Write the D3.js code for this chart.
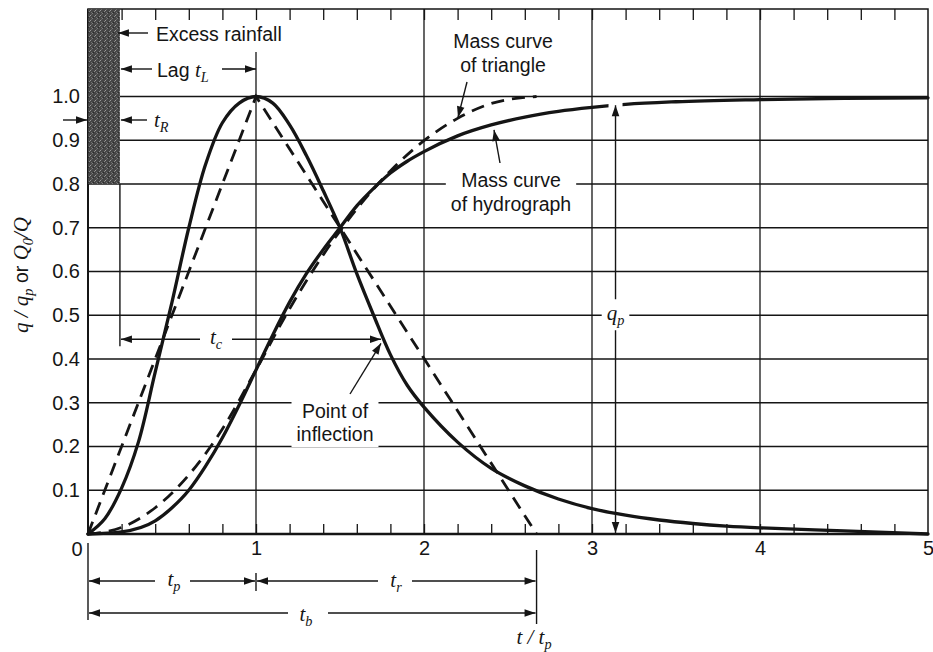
<!DOCTYPE html>
<html><head><meta charset="utf-8">
<script src="https://cdn.jsdelivr.net/npm/d3@7"></script>
<style>
html,body{margin:0;padding:0;background:#fff;}
svg{display:block;}
</style></head>
<body><svg id="c" width="933" height="652"></svg>
<script>
// ---------- data ----------
const tHydro = [0,0.1,0.2,0.3,0.4,0.5,0.6,0.7,0.8,0.9,1.0,1.1,1.2,1.3,1.4,1.5,1.6,1.7,1.8,1.9,2.0,2.2,2.4,2.6,2.8,3.0,3.2,3.4,3.6,3.8,4.0,4.5,5.0];
const qHydro = [0,0.035,0.105,0.21,0.37,0.53,0.70,0.845,0.94,0.985,1.0,0.985,0.935,0.865,0.785,0.70,0.595,0.50,0.41,0.34,0.29,0.21,0.15,0.11,0.08,0.058,0.043,0.032,0.024,0.018,0.014,0.007,0];
const tMass = [0,0.2,0.4,0.5,0.6,0.7,0.8,0.9,1.0,1.1,1.2,1.3,1.4,1.5,1.6,1.7,1.8,1.9,2.0,2.2,2.4,2.6,2.8,3.0,3.2,3.5,4.0,4.5,5.0];
const qMass = [0,0.005,0.03,0.06,0.10,0.155,0.22,0.295,0.375,0.455,0.53,0.595,0.65,0.70,0.75,0.79,0.825,0.852,0.874,0.91,0.935,0.953,0.966,0.975,0.982,0.988,0.993,0.996,0.997];
const tTriMass = [0,0.2,0.4,0.6,0.8,1.0,1.2,1.4,1.6,1.8,2.0,2.2,2.4,2.67];
const qTriMass = [0,0.015,0.06,0.135,0.24,0.375,0.515,0.638,0.743,0.830,0.899,0.950,0.984,1.0];
const tTri = [0,1,2.67];
const qTri = [0,1,0];
const xLabelValues = [1,2,3,4,5];
const minorTicks = [0.2,0.4,0.6,0.8,1.0,1.2,1.4,1.6,1.8,2.0,2.2,2.4,2.6,2.8,3.0,3.2,3.4,3.6,3.8,4.0,4.2,4.4,4.6,4.8];
const yTickValues = [0.1,0.2,0.3,0.4,0.5,0.6,0.7,0.8,0.9,1.0];
const rainEnd = 0.19, rainBottom = 0.8;
const tb = 2.67, tInflect = 1.75, qInflect = 0.445, tQp = 3.14, qQpTop = 0.98;

// ---------- setup ----------
const svg = d3.select("#c");
const x = d3.scaleLinear().domain([0,5]).range([88,928]);
const y = d3.scaleLinear().domain([0,1.2]).range([534,9]);
const ink = "#151515";
const SANS = "'Liberation Sans', Arial, Helvetica, sans-serif";
const SERIF = "'Liberation Serif','DejaVu Serif',serif";
const FS = 19.5;

const defs = svg.append("defs");
const pat = defs.append("pattern").attr("id","stip").attr("width",5).attr("height",5).attr("patternUnits","userSpaceOnUse");
pat.append("rect").attr("width",5).attr("height",5).attr("fill","#454545");
[[0,0,"#9a9a9a"],[2,3,"#7e7e7e"],[4,1,"#888"],[1,4,"#666"],[3,2,"#2a2a2a"],[1,2,"#707070"]].forEach(p=>
  pat.append("rect").attr("x",p[0]).attr("y",p[1]).attr("width",1).attr("height",1).attr("fill",p[2]));

// ---------- grid ----------
const grid = svg.append("g").attr("stroke",ink).attr("stroke-width",1.3);
grid.selectAll("line.h").data(yTickValues).join("line").attr("class","h")
  .attr("x1",x(0)).attr("x2",x(5)).attr("y1",d=>y(d)).attr("y2",d=>y(d));
grid.selectAll("line.v").data([1,2,3,4]).join("line").attr("class","v")
  .attr("x1",d=>x(d)).attr("x2",d=>x(d)).attr("y1",d=>d===1?52:y(1.2)).attr("y2",y(0));

// ticks
const tickStyle = g=>{g.select(".domain").remove(); g.selectAll("line").attr("stroke",ink).attr("stroke-width",1.3);};
svg.append("g").attr("transform",`translate(0,${y(0)})`)
  .call(d3.axisTop(x).tickValues(minorTicks).tickSize(10).tickFormat("")).call(tickStyle);
svg.append("g").attr("transform",`translate(0,${y(1.2)})`)
  .call(d3.axisBottom(x).tickValues(minorTicks).tickSize(11).tickFormat("")).call(tickStyle);

// labels on axes
const xl = svg.append("g").attr("transform",`translate(0,${y(0)})`)
  .call(d3.axisBottom(x).tickValues(xLabelValues).tickSize(0).tickPadding(7).tickFormat(d3.format("d")));
xl.select(".domain").remove();
xl.selectAll("text").attr("font-family",SANS).attr("font-size",20).attr("fill",ink);
const yl = svg.append("g").attr("transform",`translate(${x(0)},0)`)
  .call(d3.axisLeft(y).tickValues(yTickValues).tickSize(0).tickPadding(8).tickFormat(d3.format(".1f")));
yl.select(".domain").remove();
yl.selectAll("text").attr("font-family",SANS).attr("font-size",20).attr("fill",ink);
svg.append("text").attr("x",x(0)-11).attr("y",y(0)+22).attr("text-anchor","middle")
  .attr("font-family",SANS).attr("font-size",20).attr("fill",ink).text("0");

// frame
svg.append("rect").attr("x",x(0)).attr("y",y(1.2)).attr("width",x(5)-x(0)).attr("height",y(0)-y(1.2))
  .attr("fill","none").attr("stroke",ink).attr("stroke-width",1.5);
svg.append("line").attr("x1",x(0)).attr("x2",x(5)).attr("y1",y(0)).attr("y2",y(0)).attr("stroke",ink).attr("stroke-width",2.4);
svg.append("line").attr("x1",x(0)).attr("x2",x(0)).attr("y1",y(1.2)).attr("y2",y(0)).attr("stroke",ink).attr("stroke-width",2);

// rainfall bar
svg.append("rect").attr("x",x(0)).attr("y",y(1.2)).attr("width",x(rainEnd)-x(0)).attr("height",y(rainBottom)-y(1.2))
  .attr("fill","url(#stip)");

// ---------- helpers ----------
function arrow(g,x1,y1,x2,y2,head=true){
  g.append("line").attr("x1",x1).attr("y1",y1).attr("x2",x2).attr("y2",y2).attr("stroke",ink).attr("stroke-width",1.4);
  if(!head) return;
  const a = Math.atan2(y2-y1,x2-x1), L=11, w=3.8;
  const bx = x2 - L*Math.cos(a), by = y2 - L*Math.sin(a);
  const px = -Math.sin(a)*w, py = Math.cos(a)*w;
  g.append("path").attr("d",`M${x2},${y2}L${bx+px},${by+py}L${bx-px},${by-py}Z`).attr("fill",ink);
}
function textBox(g,node){
  const b = node.getBBox();
  g.insert("rect",":first-child").attr("x",b.x-5).attr("y",b.y-2).attr("width",b.width+10).attr("height",b.height+4).attr("fill","#fff");
}
function mathText(g,px,py,parts,anchor="middle",size=21){
  const t = g.append("text").attr("x",px).attr("y",py).attr("text-anchor",anchor).attr("fill",ink).attr("font-size",size);
  let shifted = 0;
  parts.forEach(([s,k])=>{
    const ts = t.append("tspan").text(s);
    let dy = 0;
    if(k==="sub"){ ts.attr("font-family",SERIF).attr("font-style","italic").attr("font-size",size*0.68); if(!shifted){dy=5;shifted=1;} }
    else { if(shifted){dy=-5;shifted=0;} if(k==="it"){ts.attr("font-family",SERIF).attr("font-style","italic");} else {ts.attr("font-family",SANS).attr("font-size",FS);} }
    if(dy) ts.attr("dy",dy);
  });
  return t;
}

// ---------- curves ----------
const curves = svg.append("g").attr("fill","none").attr("stroke",ink).attr("stroke-linecap","round");
const smooth = d3.line().x(d=>x(d[0])).y(d=>y(d[1])).curve(d3.curveCatmullRom.alpha(0.5));
const mono = d3.line().x(d=>x(d[0])).y(d=>y(d[1])).curve(d3.curveMonotoneX);
const straight = d3.line().x(d=>x(d[0])).y(d=>y(d[1]));
curves.append("path").datum(d3.zip(tHydro,qHydro)).attr("d",smooth).attr("stroke-width",3.3);
curves.append("path").datum(d3.zip(tMass,qMass)).attr("d",mono).attr("stroke-width",3.3);
curves.append("path").datum(d3.zip(tTri,qTri)).attr("d",straight).attr("stroke-width",2.8).attr("stroke-dasharray","13,8").attr("stroke-linecap","butt");
curves.append("path").datum(d3.zip(tTriMass,qTriMass)).attr("d",mono).attr("stroke-width",2.8).attr("stroke-dasharray","13,8").attr("stroke-linecap","butt");
// white halo where the q_p arrow meets the mass curve
curves.append("rect").attr("x",x(tQp)-7).attr("y",y(qQpTop)-4).attr("width",14).attr("height",14).attr("fill","#fff").attr("stroke","none");

// ---------- annotations ----------
const ann = svg.append("g");
arrow(ann,148,33,x(rainEnd)-2,33);
ann.append("text").attr("x",156).attr("y",41).attr("font-family",SANS).attr("font-size",FS).attr("fill",ink).text("Excess rainfall");
arrow(ann,152,69,x(rainEnd)+1,69);
mathText(ann,157,77,[["Lag ","rm"],["t","it"],["L","sub"]],"start");
arrow(ann,222,69,x(1),69);
arrow(ann,63,120,x(0)-1,120);
arrow(ann,147,120,x(rainEnd)+1,120);
mathText(ann,154,127,[["t","it"],["R","sub"]],"start");
// tc
ann.append("line").attr("x1",x(rainEnd)).attr("x2",x(rainEnd)).attr("y1",y(rainBottom)).attr("y2",y(qInflect)+7).attr("stroke",ink).attr("stroke-width",1.4);
arrow(ann,200,y(qInflect),x(rainEnd)+1,y(qInflect));
arrow(ann,232,y(qInflect),x(tInflect)-1,y(qInflect));
mathText(ann,216,y(qInflect)+5,[["t","it"],["c","sub"]]);
// Point of inflection
{
  const g = ann.append("g");
  const t = g.append("text").attr("text-anchor","middle").attr("font-family",SANS).attr("font-size",FS).attr("fill",ink);
  t.append("tspan").attr("x",335).attr("y",418).text("Point of");
  t.append("tspan").attr("x",335).attr("y",441).text("inflection");
  textBox(g,t.node());
  arrow(ann,350,394,x(tInflect)-1,y(qInflect)+4);
}
// Mass curve of triangle
{
  const t = ann.append("text").attr("text-anchor","middle").attr("font-family",SANS).attr("font-size",FS).attr("fill",ink);
  t.append("tspan").attr("x",503).attr("y",48).text("Mass curve");
  t.append("tspan").attr("x",503).attr("y",72).text("of triangle");
  arrow(ann,467,82,458,y(0.95)-1);
}
// Mass curve of hydrograph
{
  const g = ann.append("g");
  const t = g.append("text").attr("text-anchor","middle").attr("font-family",SANS).attr("font-size",FS).attr("fill",ink);
  t.append("tspan").attr("x",511).attr("y",187).text("Mass curve");
  t.append("tspan").attr("x",511).attr("y",211).text("of hydrograph");
  textBox(g,t.node());
  arrow(ann,500,163,494,y(0.935)+5);
}
// qp
{
  const xq = x(tQp), yTop = y(qQpTop);
  arrow(ann,xq,y(0.5),xq,yTop);
  arrow(ann,xq,y(0.5),xq,y(0)-1);
  const g = ann.append("g");
  const t = mathText(g,xq,y(0.5)+5,[["q","it"],["p","sub"]]);
  textBox(g,t.node());
}
// bottom dimension lines
const dim = svg.append("g");
dim.append("line").attr("x1",x(0)).attr("x2",x(0)).attr("y1",543).attr("y2",620).attr("stroke",ink).attr("stroke-width",1.4);
dim.append("line").attr("x1",x(1)).attr("x2",x(1)).attr("y1",573).attr("y2",591).attr("stroke",ink).attr("stroke-width",1.4);
dim.append("line").attr("x1",x(tb)).attr("x2",x(tb)).attr("y1",550).attr("y2",624).attr("stroke",ink).attr("stroke-width",1.4);
arrow(dim,155,581,x(0)+1,581);
arrow(dim,190,581,x(1)-1,581);
mathText(dim,174,586,[["t","it"],["p","sub"]]);
arrow(dim,378,581,x(1)+1,581);
arrow(dim,412,581,x(tb)-1,581);
mathText(dim,396,587,[["t","it"],["r","sub"]]);
arrow(dim,288,613,x(0)+1,613);
arrow(dim,328,613,x(tb)-1,613);
mathText(dim,306,621,[["t","it"],["b","sub"]]);
mathText(dim,534,644,[["t / t","it"],["p","sub"]]);

// y-axis title
{
  const g = svg.append("g").attr("transform","translate(28,275) rotate(-90)");
  mathText(g,0,0,[["q / q","it"],["p","sub"],[" or ","rm"],["Q","it"],["0","sub"],["/Q","it"]],"middle",21);
}
</script>
</body></html>
